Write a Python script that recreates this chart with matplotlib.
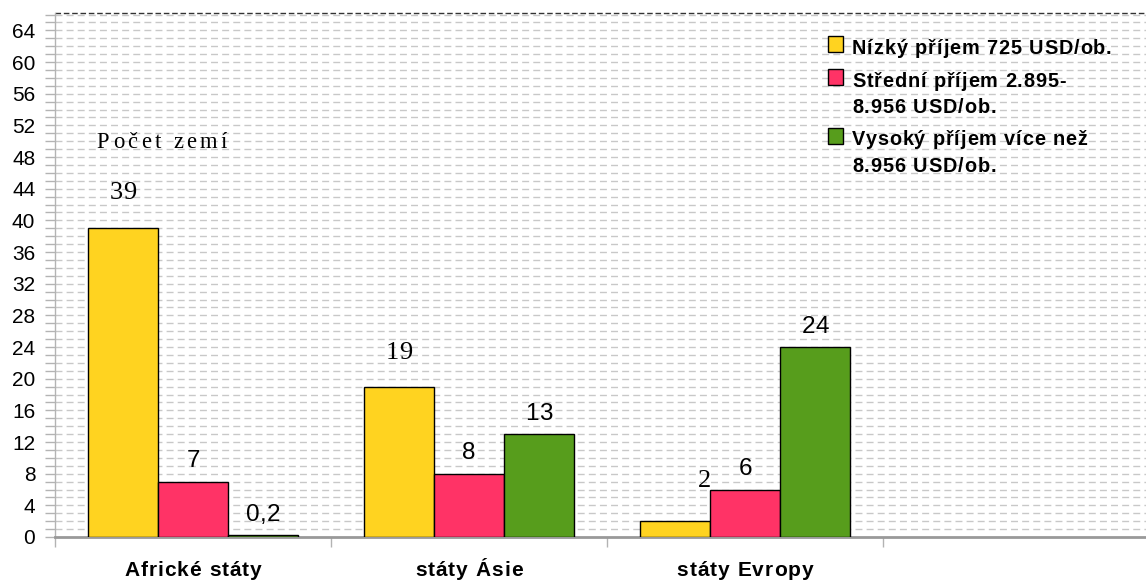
import matplotlib
matplotlib.use("Agg")
import matplotlib.pyplot as plt
from matplotlib.font_manager import FontProperties
from matplotlib.transforms import offset_copy
import matplotlib.patches as mpatches
import numpy as np

categories = ["Africké státy", "státy Ásie", "státy Evropy", ""]
series_names = [["Nízký příjem 725 USD/ob."],
                ["Střední příjem 2.895-", "8.956 USD/ob."],
                ["Vysoký příjem více než", "8.956 USD/ob."]]
low = [39, 19, 2]
mid = [7, 8, 6]
high = [0.2, 13, 24]
label_texts = [["39", "19", "2"], ["7", "8", "6"], ["0,2", "13", "24"]]
label_serif = [[True, True, True], [False, False, False], [False, False, False]]
colors = ["#FFD320", "#FF3366", "#579D1C"]
yticks = list(range(0, 65, 4))
annotation = "Počet zemí"

W, H = 1146, 581
fig = plt.figure(figsize=(W / 100, H / 100), dpi=100)
AX_L, AX_T, AX_B = 55, 13, 537
ax = fig.add_axes([AX_L / W, 1 - AX_B / H, (W - AX_L) / W, (AX_B - AX_T) / H])
renderer = fig.canvas.get_renderer()

unit = 276.0
ax.set_xlim(-0.5, -0.5 + (W - AX_L) / unit)
ax.set_ylim(0, 66.2)

sans = ["Liberation Sans", "DejaVu Sans"]
serif = ["Liberation Serif", "DejaVu Serif"]


def text_w(s, fp):
    return renderer.get_text_width_height_descent(s, fp, ismath=False)[0]


def spaced(x, y, s, fp, sp, transform, ha="center", dx_px=0.0, dy_px=0.0, **kw):
    """Draw text with extra letter spacing (sp pixels), baseline-anchored."""
    sent = "|"
    ws = text_w(sent, fp)
    pos = [0.0] + [text_w(s[:k] + sent, fp) - ws for k in range(1, len(s))]
    total = text_w(s, fp) + sp * (len(s) - 1)
    start = -total / 2 if ha == "center" else 0.0
    for k, ch in enumerate(s):
        if ch == " ":
            continue
        off = start + pos[k] + sp * k + dx_px
        tr = offset_copy(transform, fig=fig, x=off * 72 / fig.dpi,
                         y=dy_px * 72 / fig.dpi, units="points")
        fig.text(x, y, ch, transform=tr, ha="left", va="baseline",
                 fontproperties=fp, **kw)


def fig_px(x, y):
    return x / W, 1 - y / H


# grid every 1 unit
for v in range(1, 67):
    ax.axhline(v, color="#C8C8C8", lw=1.0, ls=(0, (5, 3)), zorder=0)
ax.axhline(66.2, color="#333333", lw=1.0, ls=(0, (4, 2)), zorder=0, clip_on=False)

w = 70 / unit
series = [low, mid, high]
x = np.arange(3)
fp_serif_val = FontProperties(family=serif, size=19)
fp_sans_val = FontProperties(family=sans, size=17.5)
serif_off = {0: (0, 29), 1: (0, 27.5), 2: (29.5, 34)}
for i, (vals, c) in enumerate(zip(series, colors)):
    pos = x + (i - 1) * w
    ax.bar(pos, vals, width=w, color=c, edgecolor="black", linewidth=1.0, zorder=3)
    for j, (p, v) in enumerate(zip(pos, vals)):
        if label_serif[i][j]:
            dx, dy = serif_off[j]
            spaced(p, v, label_texts[i][j], fp_serif_val, 0, ax.transData,
                   dx_px=dx, dy_px=dy, zorder=5)
        else:
            spaced(p, v, label_texts[i][j], fp_sans_val, 0, ax.transData,
                   dy_px=14.5, zorder=5)

# annotation
fp_ann = FontProperties(family=serif, size=16.3)
ax_x, ax_y = fig_px(162, 148)
spaced(ax_x, ax_y, annotation, fp_ann, 3.4, fig.transFigure, zorder=5)

# axes styling
for s in ["top", "right"]:
    ax.spines[s].set_visible(False)
ax.spines["left"].set_color("#B3B3B3")
ax.spines["bottom"].set_color("#999999")
ax.spines["bottom"].set_linewidth(2)
ax.spines["left"].set_linewidth(1)

ax.set_yticks(yticks)
ax.set_yticklabels([str(t) for t in yticks], family=sans, fontsize=15)
ax.set_yticks(range(0, 67), minor=True)
ax.tick_params(axis="y", which="both", length=7.2, color="#B3B3B3", width=1, pad=7)

ax.set_xticks([-0.5, 0.5, 1.5, 2.5])
ax.set_xticklabels([])
ax.tick_params(axis="x", which="major", length=7.2, color="#B3B3B3", width=1)

fp_cat = FontProperties(family=sans, size=15, weight="bold")
for k, name in enumerate(categories):
    if name:
        spaced(k, 0, name, fp_cat, 1.0, ax.get_xaxis_transform(), dy_px=-(576 - AX_B))

# legend (drawn manually to mimic layout)
fp_leg = FontProperties(family=sans, size=14.3, weight="bold")
marker_tops = [36, 69, 128]
line_baselines = [[53.5], [87, 113], [145, 172.5]]
for c, lines, mt, bls in zip(colors, series_names, marker_tops, line_baselines):
    mx, my = fig_px(828, mt + 16)
    fig.patches.append(mpatches.Rectangle((mx, my), 15 / W, 16 / H, transform=fig.transFigure,
                                          facecolor=c, edgecolor="black", lw=1.0, zorder=6))
    for line, bl in zip(lines, bls):
        tx, ty = fig_px(852, bl)
        spaced(tx, ty, line, fp_leg, 0.9, fig.transFigure, ha="left", zorder=6)

fig.savefig("out.png", dpi=100)
